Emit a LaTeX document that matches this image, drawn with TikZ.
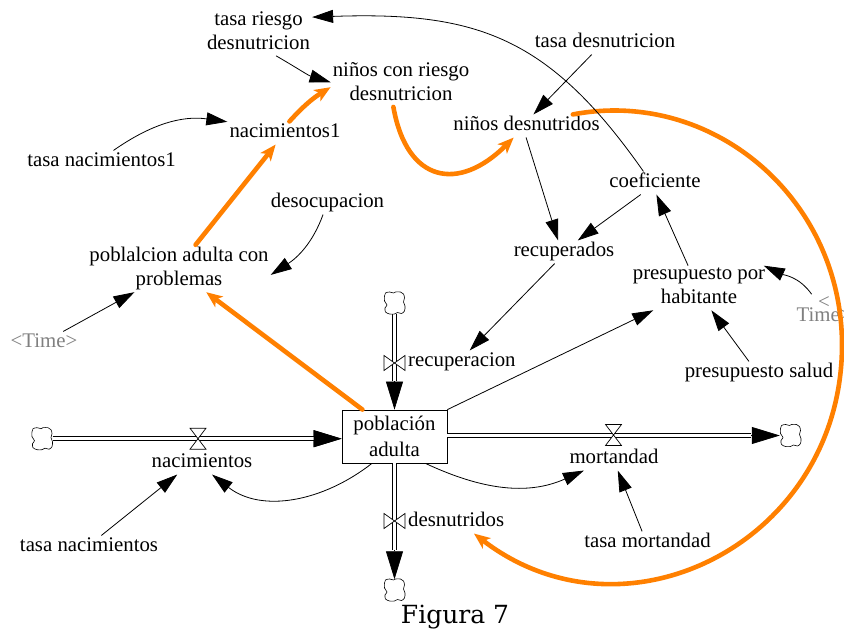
\documentclass[tikz,border=0pt]{standalone}
\usepackage{fontspec}
\setmainfont{Liberation Serif}
\newfontfamily\capfont{DejaVu Serif}
\usetikzlibrary{arrows.meta,calc}
\definecolor{loopcol}{RGB}{255,128,0}
\definecolor{shadowvar}{RGB}{128,128,128}
\begin{document}
\begin{tikzpicture}[x=1pt,y=1pt,
  font=\fontsize{20.8}{24}\selectfont,
  lbl/.style={inner sep=2pt, text height=14.2pt, text depth=4.5pt},
  lbltwo/.style={inner sep=2pt, align=center, text depth=4.5pt},
  shadowtxt/.style={text=shadowvar},
  stockbox/.style={draw, line width=0.8pt, rectangle, fill=white,
    minimum width=105pt, minimum height=53pt, inner sep=0pt, align=center,
    font=\fontsize{20.8}{26}\selectfont},
  cloudnode/.style={rectangle, minimum width=21pt, minimum height=21pt, inner sep=0pt},
  cloudpic/.pic={\draw[line width=0.6pt, fill=white, smooth cycle, tension=0.5]
    plot coordinates {(-9,10) (-5,11) (-1,10) (1,11) (6,11) (9,9) (10,5) (9,1)
      (10.5,-3) (10,-8) (7,-10.5) (3,-9.5) (0,-11) (-5,-11) (-9,-9) (-9.5,-5)
      (-7.5,-2) (-10,2) (-10,7)};},
  info/.style={draw, line width=0.8pt, -{Triangle[length=21pt,width=13pt]}},
  fbloop/.style={draw=loopcol, line width=4.6pt, line cap=round,
    -{Stealth[length=16pt,width=13pt,inset=4pt]}},
  pipetip/.style={draw, line width=0.7pt, -{Triangle[length=28pt,width=17pt]}},
  pipeouter/.style={draw, line width=4.6pt},
  pipeinner/.style={draw=white, line width=3.2pt},
  hvalve/.pic={\draw[line width=0.7pt, fill=white]
    (-8,10.5) -- (8,10.5) -- (-8,-10.5) -- (8,-10.5) -- cycle;},
  vvalve/.pic={\draw[line width=0.7pt, fill=white]
    (-10.5,7.5) -- (-10.5,-7.5) -- (10.5,7.5) -- (10.5,-7.5) -- cycle;}
]
\useasboundingbox (0,0) rectangle (844,635);
\fill[white] (0,0) rectangle (844,635);

% auxiliary variables
\node[lbltwo] (trd) at (258.5,602.5) {tasa riesgo\\desnutricion};
\node[lbltwo] (ncr) at (401,551.5) {niños con riesgo\\desnutricion};
\node[lbl] (tdn) at (605,592) {tasa desnutricion};
\node[lbl] (nac1) at (285,502) {nacimientos1};
\node[lbl] (nd) at (526.5,509) {niños desnutridos};
\node[lbl] (tn1) at (101.5,473) {tasa nacimientos1};
\node[lbl] (coef) at (655,452) {coeficiente};
\node[lbl] (deso) at (327.5,432) {desocupacion};
\node[lbltwo] (pacp) at (179,366.5) {poblalcion adulta con\\problemas};
\node[lbl] (rec) at (564,383) {recuperados};
\node[lbltwo] (pph) at (699,347) {presupuesto por\\habitante};
\node[lbl, shadowtxt] (timeL) at (44,292) {<Time>};
\node[shadowtxt, align=center, inner sep=2pt] (timeR) at (824,326) {<\\[-11pt]Time>};
\node[lbl] (pss) at (759,262) {presupuesto salud};
\node[lbl] (tn) at (89,88) {tasa nacimientos};
\node[lbl] (tm) at (647.5,92) {tasa mortandad};

% stock, sources and sinks
\node[stockbox] (stock) at (394.5,198.5) {población\\adulta};
\node[cloudnode] (srcL) at (42,196.3) {};
\node[cloudnode] (srcT) at (394.5,332) {};
\node[cloudnode] (sinkR) at (790.5,199.5) {};
\node[cloudnode] (sinkB) at (394.5,45) {};
\coordinate (inL) at (srcL.east -| stock.west);
\coordinate (outR) at (sinkR.west -| stock.east);

% valve positions
\coordinate (vNac) at (198,196.3);
\coordinate (vMort) at (613.5,200);
\coordinate (vRec) at (394.5,272);
\coordinate (vDes) at (394.5,114);

% pipes: black outline, white core, solid head
\foreach \a/\b in {srcL.east/inL, srcT.south/stock.north, outR/sinkR.west, stock.south/sinkB.north}{
  \draw[pipetip] (\a) -- (\b);
  \draw[pipeouter, shorten >=29pt] (\a) -- (\b);
  \draw[pipeinner, shorten >=29pt] (\a) -- (\b);
}
% inflow pipe also built from filled pieces
\fill[black] ($(srcL.east)+(0,-2.3)$) rectangle ($(inL)+(-28,2.3)$);
\fill[white] ($(srcL.east)+(0,-1.6)$) rectangle ($(inL)+(-28,1.6)$);
\fill[black] (inL) -- ($(inL)+(-28,8.5)$) -- ($(inL)+(-28,-8.5)$) -- cycle;

\pic at (srcL) {cloudpic};
\pic at (srcT) {cloudpic};
\pic at (sinkR) {cloudpic};
\pic at (sinkB) {cloudpic};
\pic at (vNac) {hvalve};
\pic at (vMort) {hvalve};
\pic at (vRec) {vvalve};
\pic at (vDes) {vvalve};

% rate names
\node[lbl] (nacL) at (202,172) {nacimientos};
\node[lbl] (mortL) at (614,176) {mortandad};
\node[lbl, anchor=west] (recu) at (406,273) {recuperacion};
\node[lbl, anchor=west] (desnL) at (406,113) {desnutridos};

% highlighted loop
\draw[fbloop] (pacp.55) -- (nac1.231);
\draw[fbloop] (nac1.69) to[bend left=8] (ncr.183);
\draw[fbloop] (ncr.252) to[out=-80,in=-135,looseness=1.6] (nd.222);
\draw[fbloop] (stock.140) -- (pacp.-41);
\draw[fbloop] (nd.14) .. controls (712,547) and (842,437) .. (842,290)
  .. controls (842,95) and (627,-16) .. (desnL.-33);

% information links
\draw[info] (coef.135) to[out=125,in=2,looseness=1.15] (trd.16);
\draw[info] (trd.-53) to[out=-30,in=163] (ncr.179);
\draw[info] (tn1.44) to[out=35,in=172] (nac1.169);
\draw[info] (tdn.221) -- (nd.59);
\draw[info] (nd.-92) -- (rec.117);
\draw[info] (coef.219) -- (rec.40);
\draw[info] (pph.116) -- (coef.-83);
\draw[info] (rec.231) -- (recu.56);
\draw[info] (stock.north east) -- (pph.206);
\draw[info] (pss.131) -- (pph.-61);
\draw[info] (timeR.130) to[out=125,in=-25] (pph.19);
\draw[info] (deso.249) to[out=250,in=33] (pacp.-4);
\draw[info] (timeL.31) -- (pacp.208);
\draw[info] (tn.43) -- (nacL.205);
\draw[info] (stock.230) to[out=218,in=-38] (nacL.-49);
\draw[info] (stock.-41) to[out=-25,in=204] (mortL.201);
\draw[info] (tm.115) -- (mortL.-72);

% caption
\node[font=\capfont\fontsize{25}{30}\selectfont] (cap) at (455,18) {Figura 7};
\end{tikzpicture}
\end{document}
